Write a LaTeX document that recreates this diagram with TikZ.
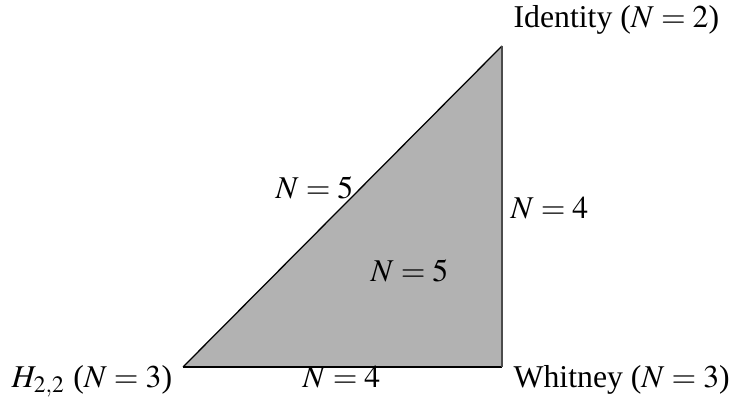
\documentclass[tikz,border=0pt]{standalone}
\usepackage{mathptmx}
\usepackage{fontspec}
\setmainfont{Liberation Serif}
\usepackage{tikz}
\usetikzlibrary{positioning}

\begin{document}
\begin{tikzpicture}[
  x=0.315pt, y=-0.315pt,
  every node/.style={font=\normalsize, inner sep=0pt},
  face/.style={fill=black!30},
  edge/.style={draw=black, line width=0.4pt},
  lbl/.style={anchor=base west}
]
\useasboundingbox (0,0) rectangle (729,406);

\coordinate (h22) at (183,367);
\coordinate (id) at (502,46);
\coordinate (wh) at (502,367);

\fill[face] (h22) -- (id) -- (wh) -- cycle;
\draw[edge] (h22) -- (id);
\draw[edge] (h22) -- (wh);
\draw[edge, draw=black!70] (id) -- (wh);

\node[lbl] (lid) at (513,28) {Identity ($N=2$)};
\node[lbl] (lwh) at (513,388) {Whitney ($N=3$)};
\node[lbl] (lh) at (11,388) {$H_{2,2}$ ($N=3$)};
\node[lbl] (lbot) at (302,388) {$N=4$};
\node[lbl] (lright) at (510,219) {$N=4$};
\node[lbl] (ldiag) at (275,199) {$N=5$};
\node[lbl] (lface) at (370,282) {$N=5$};
\end{tikzpicture}
\end{document}
